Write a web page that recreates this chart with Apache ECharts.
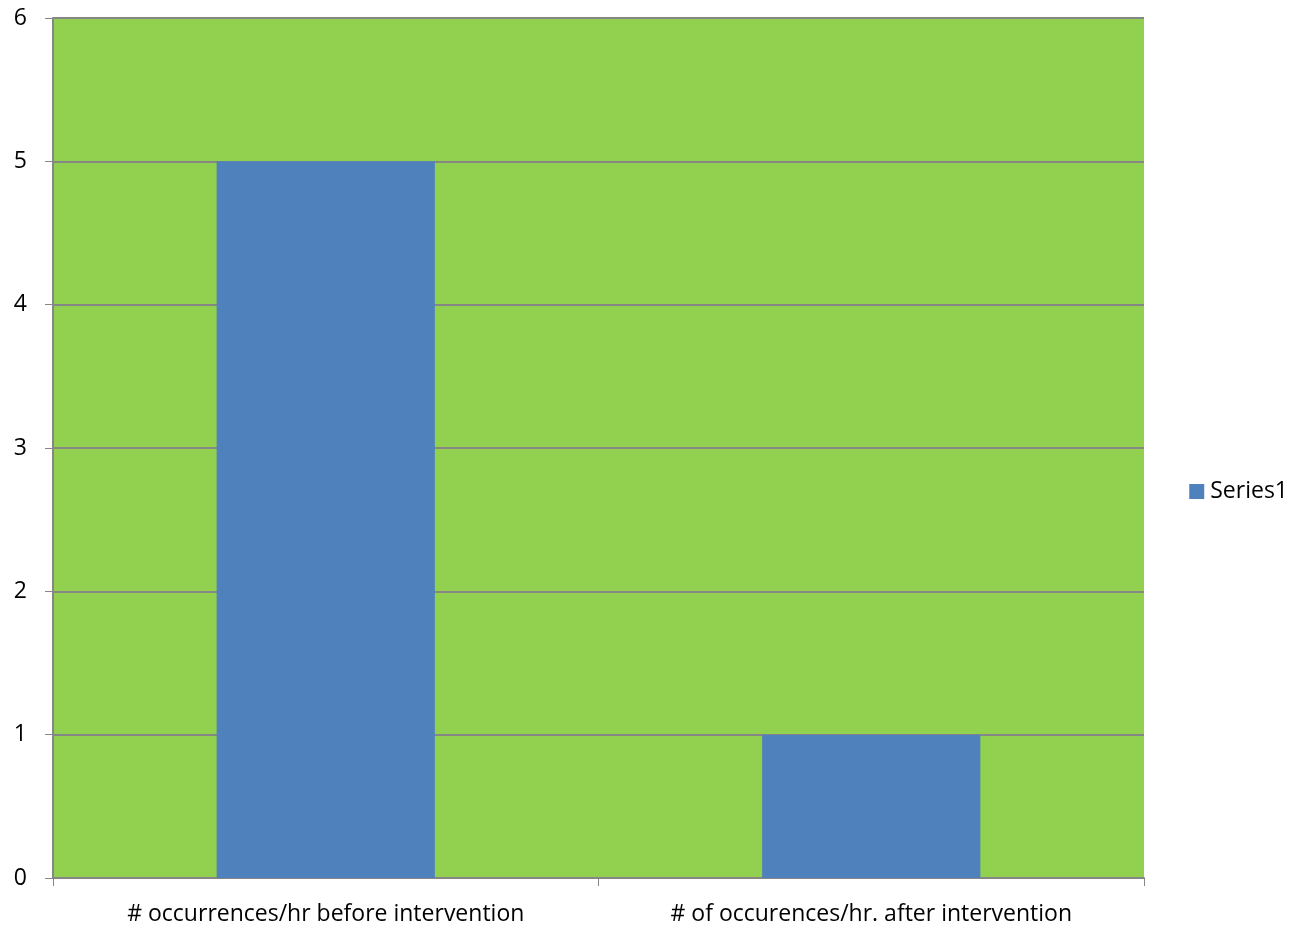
<!DOCTYPE html>
<html><head><meta charset="utf-8">
<script src="https://cdn.jsdelivr.net/npm/echarts@6/dist/echarts.min.js"></script>
<style>html,body{margin:0;padding:0;background:#fff}#c{width:1297px;height:929px}</style>
</head><body><div id="c"></div>
<script>
const categories = ['# occurrences/hr before intervention', '# of occurences/hr. after intervention'];
const series1 = [5, 1];
const seriesName = 'Series1';
const yTicks = {min: 0, max: 6, interval: 1};

const chart = echarts.init(document.getElementById('c'), null, {renderer: 'canvas'});
const font = "'Open Sans', 'DejaVu Sans', sans-serif";
chart.setOption({
  animation: false,
  backgroundColor: '#ffffff',
  grid: {left: 53, right: 153, top: 18, bottom: 51, show: true, backgroundColor: '#92D050', borderWidth: 0},
  legend: {
    orient: 'vertical', right: 9, top: 480, padding: 0, itemWidth: 15, itemHeight: 15, itemGap: 5,
    icon: 'rect',
    textStyle: {fontFamily: font, fontSize: 23, color: '#000', padding: [0, 0, 0, 1]},
    data: [seriesName]
  },
  xAxis: {
    type: 'category', data: categories,
    axisLine: {show: true, lineStyle: {color: '#868686', width: 2}},
    axisTick: {show: true, length: 8, lineStyle: {color: '#868686', width: 1}, alignWithLabel: false},
    axisLabel: {fontFamily: font, fontSize: 23, color: '#000', margin: 25, interval: 0},
    splitLine: {show: false}
  },
  yAxis: {
    type: 'value', min: yTicks.min, max: yTicks.max, interval: yTicks.interval,
    axisLine: {show: true, lineStyle: {color: '#868686', width: 2}},
    axisTick: {show: true, length: 8, lineStyle: {color: '#868686', width: 1}},
    axisLabel: {fontFamily: font, fontSize: 23, color: '#000', margin: 26},
    splitLine: {show: true, lineStyle: {color: '#868686', width: 2}}
  },
  series: [{
    name: seriesName, type: 'bar', data: series1,
    barCategoryGap: '60%',
    itemStyle: {color: '#4F81BD'}
  }]
});
</script></body></html>
